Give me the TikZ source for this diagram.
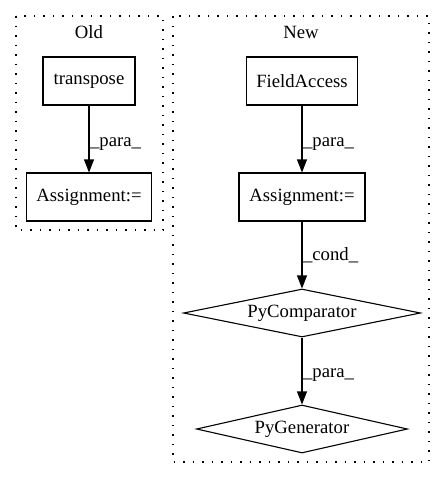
\documentclass[tikz,border=0pt]{standalone}
\usepackage{fontspec}
\setmainfont{Liberation Serif}
\usetikzlibrary{arrows.meta,shapes.geometric}
\begin{document}
\begin{tikzpicture}[x=1pt,y=-1pt,
  lbl/.style={font=\fontsize{18.7}{22}\selectfont, inner sep=0pt},
  box/.style={draw, line width=1.1pt, font=\fontsize{18.7}{22}\selectfont, inner sep=0pt},
  dia/.style={draw, line width=1.1pt, diamond, aspect=5, font=\fontsize{18.7}{22}\selectfont, inner sep=0pt},
  cluster/.style={draw, line width=1.2pt, dash pattern=on 1.5pt off 8pt},
  edge/.style={line width=1.1pt, -{Triangle[length=13pt,width=10pt]}},
  elbl/.style={lbl, anchor=west, xshift=0.5pt}]
\useasboundingbox (0,0) rectangle (445,480);
% clusters
\draw[cluster] (16,16) rectangle (163,230);
\draw[cluster] (173,16) rectangle (429,462);
\node[lbl] (old) at (89,32) {Old};
\node[lbl] (new) at (301,32) {New};
% old
\node[box, minimum width=92pt, minimum height=48pt] (tr) at (89,81) {transpose};
\node[box, minimum width=125pt, minimum height=48pt] (as1) at (89,197) {Assignment:=};
% new
\node[box, minimum width=111pt, minimum height=48pt] (fa) at (302,81) {FieldAccess};
\node[box, minimum width=126pt, minimum height=48pt] (as2) at (302,197) {Assignment:=};
\node[dia, minimum width=237pt, minimum height=48pt] (pc) at (302,313) {PyComparator};
\node[dia, minimum width=211pt, minimum height=48pt] (pg) at (302,429) {PyGenerator};
% edges
\draw[edge] (tr) -- node[elbl, yshift=-5pt] {\_para\_} (as1);
\draw[edge] (fa) -- node[elbl, yshift=-5pt] {\_para\_} (as2);
\draw[edge] (as2) -- node[elbl] {\_cond\_} (pc);
\draw[edge] (pc) -- node[elbl, yshift=-4pt] {\_para\_} (pg);
\end{tikzpicture}
\end{document}
